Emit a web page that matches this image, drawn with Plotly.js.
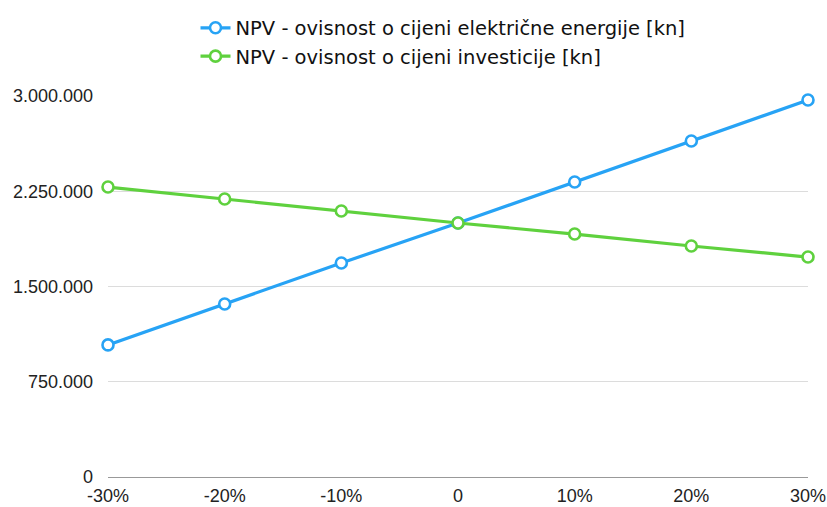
<!DOCTYPE html>
<html><head><meta charset="utf-8">
<script src="https://cdn.plot.ly/plotly-3.0.1.min.js"></script>
<style>html,body{margin:0;padding:0;background:#fff}#chart{width:827px;height:507px}</style>
</head><body><div id="chart"></div>
<script>
var categories = [-30, -20, -10, 0, 10, 20, 30];
var tickLabels = ['-30%', '-20%', '-10%', '0', '10%', '20%', '30%'];
var energyNPV = [1040000, 1362000, 1685000, 2000000, 2323000, 2646000, 2968000];
var investNPV = [2283000, 2189000, 2094000, 2000000, 1913000, 1819000, 1732000];
var yTicks = [0, 750000, 1500000, 2250000, 3000000];
var yTickLabels = ['0', '750.000', '1.500.000', '2.250.000', '3.000.000'];

function series(name, y, color) {
  return {
    x: categories, y: y, name: name, type: 'scatter', mode: 'lines+markers',
    line: {color: color, width: 3.2},
    marker: {symbol: 'circle', size: 11, color: '#ffffff', line: {color: color, width: 2.6}},
    cliponaxis: false
  };
}
var data = [
  series('NPV - ovisnost o cijeni električne energije [kn]', energyNPV, '#27a3f5'),
  series('NPV - ovisnost o cijeni investicije [kn]', investNPV, '#5fd13e')
];
var layout = {
  width: 827, height: 507,
  margin: {l: 108, r: 19, t: 96, b: 30},
  paper_bgcolor: '#fff', plot_bgcolor: '#fff',
  font: {family: 'Liberation Sans, Arial, sans-serif', size: 18, color: '#222'},
  showlegend: true,
  legend: {x: 0.125, xanchor: 'left', yref: 'container', y: 0.983, yanchor: 'top',
    font: {family: 'DejaVu Sans, sans-serif', size: 19.5, color: '#111'}, tracegroupgap: 0, itemwidth: 30, bgcolor: 'rgba(0,0,0,0)'},
  xaxis: {range: [-30, 30], tickvals: categories, ticktext: tickLabels, showgrid: false,
    zeroline: false, showline: false, ticks: '', ticklabelstandoff: 6, fixedrange: true},
  yaxis: {range: [0, 3000000], tickvals: yTicks, ticktext: yTickLabels, showgrid: true,
    gridcolor: '#dcdcdc', gridwidth: 1, zeroline: true, zerolinecolor: '#999', zerolinewidth: 1,
    showline: false, ticks: '', ticklabelstandoff: 14, fixedrange: true}
};
Plotly.newPlot('chart', data, layout, {displayModeBar: false, staticPlot: true});
</script></body></html>
